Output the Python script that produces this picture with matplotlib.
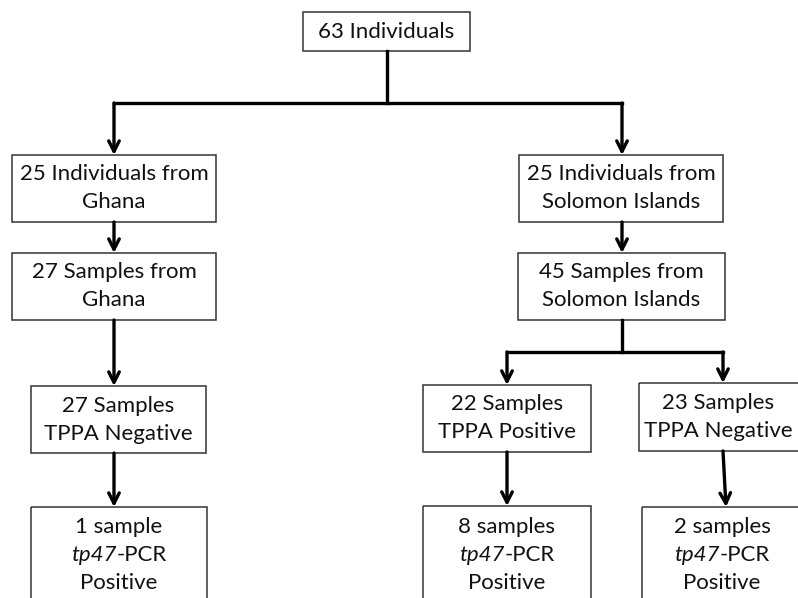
import matplotlib
matplotlib.use("Agg")
import matplotlib.pyplot as plt
from matplotlib.patches import Rectangle

plt.rcParams['font.family'] = ['Lato', 'DejaVu Sans']

# ---- content ----
# lines; a tuple (italic, regular) marks a mixed-style line
node_labels = [
    ["63 Individuals"],
    ["25 Individuals from", "Ghana"],
    ["27 Samples from", "Ghana"],
    ["27 Samples", "TPPA Negative"],
    ["1 sample", ("tp47", "-PCR"), "Positive"],
    ["25 Individuals from", "Solomon Islands"],
    ["45 Samples from", "Solomon Islands"],
    ["22 Samples", "TPPA Positive"],
    ["8 samples", ("tp47", "-PCR"), "Positive"],
    ["23 Samples", "TPPA Negative"],
    ["2 samples", ("tp47", "-PCR"), "Positive"],
]

# ---- layout (pixel boxes: x0, y0, x1, y1) ----
boxes = [
    (303, 12, 470, 51),
    (12, 155, 216, 222),
    (12, 253, 216, 320),
    (31, 386, 206, 453),
    (31, 507, 207, 610),
    (519, 155, 723, 222),
    (518, 253, 725, 320),
    (423, 385, 591, 452),
    (423, 506, 591, 610),
    (639, 383, 800, 451),
    (642, 507, 800, 610),
]
text_centers_x = [386, 114, 114, 118, 119, 621, 621, 507, 507, 718, 722]
line_gap = 28
FS = 16

fig = plt.figure(figsize=(7.98, 5.98), dpi=100)
ax = fig.add_axes([0, 0, 1, 1])
ax.set_xlim(0, 798)
ax.set_ylim(598, 0)
ax.axis('off')
renderer = fig.canvas.get_renderer()

def text_width_px(s, **kw):
    t = ax.text(0, 0, s, fontsize=FS, **kw)
    w = t.get_window_extent(renderer=renderer).width
    t.remove()
    return w

for (x0, y0, x1, y1), lines, cx in zip(boxes, node_labels, text_centers_x):
    ax.add_patch(Rectangle((x0, y0), x1 - x0, y1 - y0, fill=False,
                           edgecolor='#333333', linewidth=1.1))
    n = len(lines)
    cy = 555 if y1 > 598 else (y0 + y1) / 2
    for i, s in enumerate(lines):
        y = cy + (i - (n - 1) / 2) * line_gap
        if isinstance(s, tuple):
            it, rg = s
            w1 = text_width_px(it, style='italic')
            w2 = text_width_px(rg)
            xs = cx - (w1 + w2) / 2 + w1
            ax.text(xs, y, it, ha='right', va='center', fontsize=FS,
                    style='italic', color='#111111')
            ax.text(xs, y, rg, ha='left', va='center', fontsize=FS,
                    color='#111111')
        else:
            ax.text(cx, y, s, ha='center', va='center', fontsize=FS, color='#111111')

lw = 2.4
def seg(xs, ys):
    ax.plot(xs, ys, color='black', linewidth=lw, solid_capstyle='projecting',
            solid_joinstyle='miter')

def arrow(x0, y0, x1, y1):
    ax.annotate('', xy=(x1, y1), xytext=(x0, y0),
                arrowprops=dict(arrowstyle='->,head_length=0.75,head_width=0.38',
                                color='black', linewidth=lw, shrinkA=0, shrinkB=0))

# top split
seg([387, 387], [51, 103])
seg([114, 622], [103, 103])
arrow(114, 103, 114, 155)
arrow(622, 103, 622, 155)
# left chain
arrow(114, 222, 114, 253)
arrow(114, 320, 114, 386)
arrow(114, 453, 114, 507)
# right chain
arrow(622, 222, 622, 253)
seg([622, 622], [320, 352])
seg([507, 723], [352, 352])
arrow(507, 352, 507, 385)
arrow(723, 352, 723, 383)
arrow(507, 452, 507, 506)
arrow(723, 451, 726, 507)

fig.savefig('out.png', dpi=100)
